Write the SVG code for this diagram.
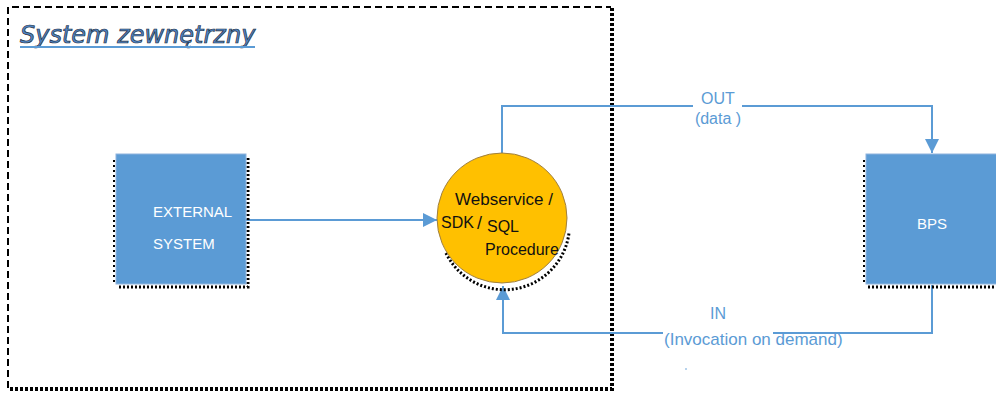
<svg xmlns="http://www.w3.org/2000/svg" width="996" height="398" viewBox="0 0 996 398">
<defs>
<style>
.lbl{font-family:"Liberation Sans",Arial,sans-serif}
.w{fill:#ffffff}
.b{fill:#5b9bd5}
.k{fill:#111111}
.conn{fill:none;stroke:#5b9bd5;stroke-width:2}
.shadow{fill:none;stroke:#000;stroke-width:3;stroke-dasharray:2 2}
.box{fill:#5b9bd5;stroke:#8fb4dd;stroke-width:1}
</style>
<marker id="ah" viewBox="0 0 10 10" refX="10" refY="5" markerWidth="7" markerHeight="7" orient="auto-start-reverse" markerUnits="strokeWidth">
<path d="M0,0 L10,5 L0,10 z" fill="#5b9bd5"/>
</marker>
</defs>
<rect width="996" height="398" fill="#ffffff"/>

<g id="frame">
<path d="M8,388 L8,7 L611,7" fill="none" stroke="#000" stroke-width="2" stroke-dasharray="7 4"/>
<path d="M612,8 L612,389 L8,389" fill="none" stroke="#000" stroke-width="4" stroke-dasharray="3 2"/>
<text x="20" y="43" font-family="'DejaVu Sans',Verdana,sans-serif" font-style="italic" font-size="24" fill="#4f86c6" stroke="#1f2d3d" stroke-width="0.7">System zewnętrzny</text>
<line x1="20" y1="47" x2="255" y2="47" stroke="#5b9bd5" stroke-width="2"/>
</g>

<g id="connectors">
<line class="conn" x1="246" y1="220" x2="437" y2="220" marker-end="url(#ah)"/>
<path class="conn" d="M502,153 L502,106 L693,106 M742,106 L932,106 L932,153" marker-end="url(#ah)"/>
<path class="conn" d="M932,285 L932,333 L773,333 M663,333 L503,333 L503,286" marker-end="url(#ah)"/>
<text class="lbl b" x="718" y="104" text-anchor="middle" font-size="16">OUT</text>
<text class="lbl b" x="718" y="124" text-anchor="middle" font-size="16">(data )</text>
<text class="lbl b" x="718" y="319" text-anchor="middle" font-size="16">IN</text>
<text class="lbl b" x="664" y="345" font-size="17">(Invocation on demand)</text>
<circle cx="686" cy="369" r="0.8" fill="#5b9bd5"/>
</g>

<g id="external-system">
<path class="shadow" d="M248,158 L248,287 L118,287"/>
<path d="M114,160 L114,284" fill="none" stroke="#000" stroke-width="2" stroke-dasharray="2 3"/>
<rect class="box" x="116" y="154" width="130" height="130"/>
<text class="lbl w" x="153" y="217" font-size="15">EXTERNAL</text>
<text class="lbl w" x="153" y="249" font-size="15">SYSTEM</text>
</g>

<g id="webservice">
<path d="M445,250 A65,65 0 0 0 568,230" fill="none" stroke="#000" stroke-width="3" stroke-dasharray="2 2" transform="translate(1,3)"/>
<circle cx="502" cy="218" r="65" fill="#ffc000" stroke="#a08040" stroke-width="1"/>
<text class="lbl k" x="455" y="205" font-size="17">Webservice /</text>
<text class="lbl k" x="441" y="228" font-size="16">SDK</text>
<text class="lbl k" x="477" y="229" font-size="18">/</text>
<text class="lbl k" x="487" y="232" font-size="16">SQL</text>
<text class="lbl k" x="485" y="255" font-size="16">Procedure</text>
</g>

<g id="bps">
<path class="shadow" d="M868,287 L996,287"/>
<path d="M864,160 L864,285" fill="none" stroke="#000" stroke-width="2" stroke-dasharray="2 3"/>
<rect class="box" x="866" y="154" width="132" height="130"/>
<text class="lbl w" x="932" y="229" text-anchor="middle" font-size="15">BPS</text>
</g>
</svg>
